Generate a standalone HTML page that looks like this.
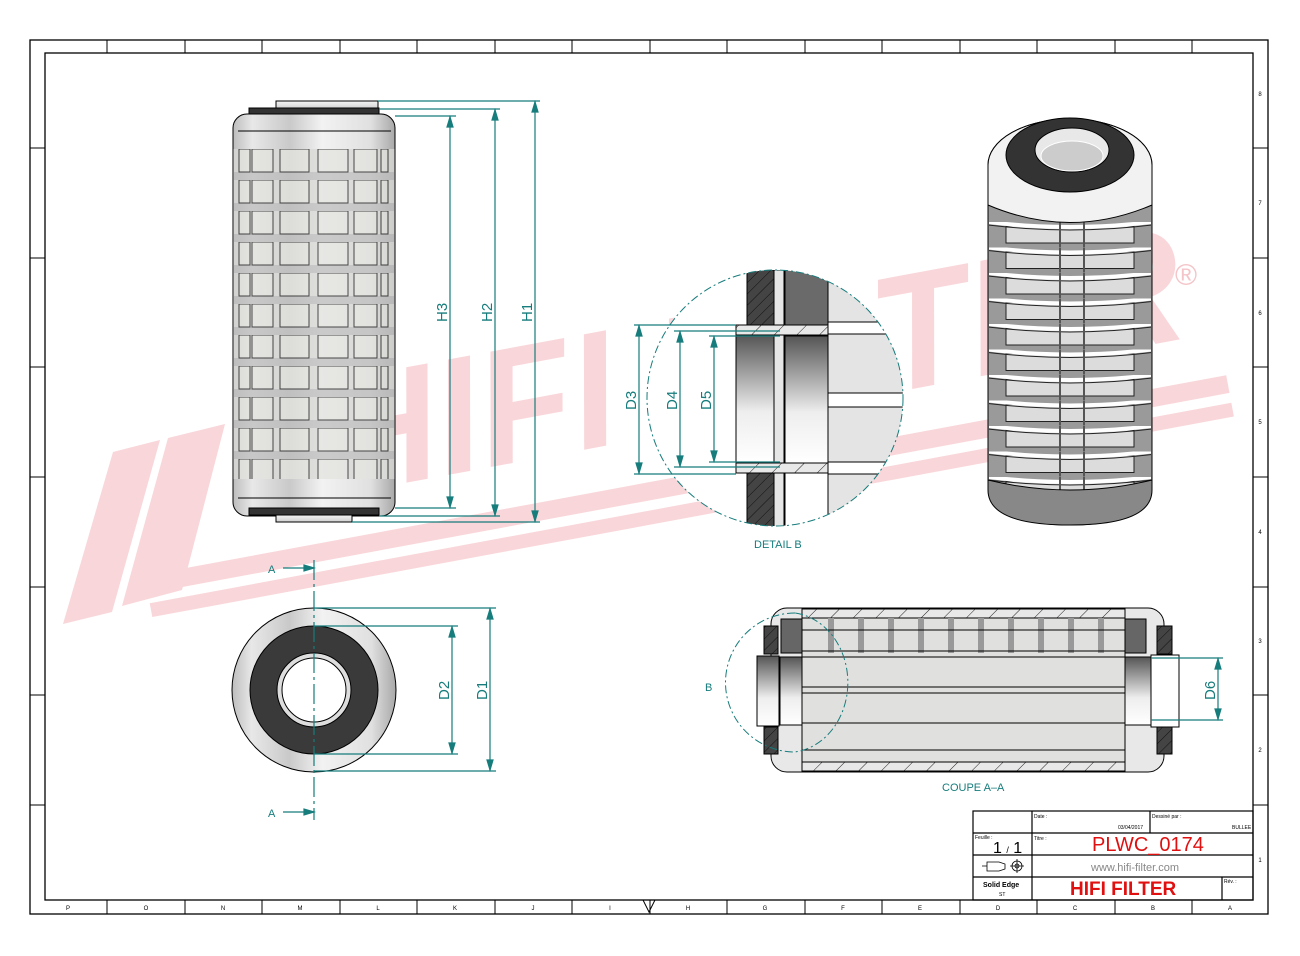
<!DOCTYPE html>
<html><head><meta charset="utf-8"><style>
html,body{margin:0;padding:0;background:#fff}
svg{display:block}
text{font-family:"Liberation Sans",sans-serif}
</style></head><body>
<svg width="1300" height="956" viewBox="0 0 1300 956" xmlns="http://www.w3.org/2000/svg">
<defs>
<linearGradient id="cyl" x1="0" x2="1" y1="0" y2="0">
<stop offset="0" stop-color="#bdbdbd"/><stop offset="0.12" stop-color="#e8e8e8"/><stop offset="0.35" stop-color="#c9c9c9"/><stop offset="0.55" stop-color="#f2f2f2"/><stop offset="0.85" stop-color="#e0e0e0"/><stop offset="1" stop-color="#a8a8a8"/>
</linearGradient>
<linearGradient id="capg" x1="0" x2="0" y1="0" y2="1">
<stop offset="0" stop-color="#f4f4f4"/><stop offset="1" stop-color="#cfcfcf"/>
</linearGradient>
<linearGradient id="vg" x1="0" x2="0" y1="0" y2="1">
<stop offset="0" stop-color="#555"/><stop offset="0.6" stop-color="#eee"/><stop offset="1" stop-color="#fff"/>
</linearGradient>
<pattern id="grid" patternUnits="userSpaceOnUse" x="233" y="149" width="162" height="31">
<rect width="162" height="31" fill="#d9d9d6"/>
<rect y="23" width="162" height="8" fill="#bdbdbd"/>
<g fill="#e3e3df" stroke="#111" stroke-width="1">
<rect x="6" y="0" width="11" height="23"/><rect x="19" y="0" width="21" height="23"/><rect x="47" y="0" width="29" height="23"/><rect x="85" y="0" width="30" height="23"/><rect x="121" y="0" width="23" height="23"/><rect x="148" y="0" width="7" height="23"/>
</g>
</pattern>
<pattern id="hatch" patternUnits="userSpaceOnUse" width="8" height="8" patternTransform="rotate(45)">
<rect width="8" height="8" fill="#444"/><line x1="0" y1="0" x2="0" y2="8" stroke="#111" stroke-width="1"/>
</pattern>
<pattern id="hatchL" patternUnits="userSpaceOnUse" width="16" height="16" patternTransform="rotate(45)">
<rect width="16" height="16" fill="#e8e8e8"/><line x1="0" y1="0" x2="0" y2="16" stroke="#222" stroke-width="1"/>
</pattern>
<pattern id="ribs" patternUnits="userSpaceOnUse" x="988" y="222" width="164" height="25.5">
<rect width="164" height="25.5" fill="#9a9a9a"/>
<rect x="18" y="4" width="128" height="17" fill="#dcdcdc" stroke="#222"/>
<path d="M0 0 Q82 10 164 0" stroke="#fff" stroke-width="4" fill="none"/>
<path d="M0 3 Q82 13 164 3" stroke="#222" stroke-width="1" fill="none"/>
<line x1="72" y1="0" x2="72" y2="25" stroke="#555" stroke-width="2"/><line x1="96" y1="0" x2="96" y2="25" stroke="#555" stroke-width="2"/>
</pattern>
<clipPath id="cB"><circle cx="775" cy="398" r="128"/></clipPath>
</defs>

<!-- watermark -->
<g fill="#f9d6d9">
<polygon points="63,624 113,452 160,440 112,612"/>
<polygon points="122,606 168,438 225,424 182,590"/>
<g transform="rotate(-10.5 200 600)">
<rect x="170" y="566" width="1080" height="18"/>
<rect x="150" y="594" width="1100" height="14"/>
</g>
<text transform="rotate(-10.5 340 495)" x="335" y="495" font-family="Liberation Serif,serif" font-weight="bold" font-style="italic" font-size="165" textLength="870" lengthAdjust="spacingAndGlyphs">HIFI FILTER</text>
<text x="1175" y="285" font-size="30" fill="#f4c4c8">®</text>
</g>

<!-- frame -->
<rect x="30" y="40" width="1238" height="874" fill="none" stroke="#000" stroke-width="1.3"/>
<rect x="45" y="53" width="1208" height="847" fill="none" stroke="#000" stroke-width="1.3"/>
<g stroke="#000" stroke-width="1">
<path d="M107 40v13M185 40v13M262 40v13M340 40v13M417 40v13M495 40v13M572 40v13M650 40v13M727 40v13M805 40v13M882 40v13M960 40v13M1037 40v13M1115 40v13M1192 40v13"/>
<path d="M107 900v14M185 900v14M262 900v14M340 900v14M417 900v14M495 900v14M572 900v14M650 900v14M727 900v14M805 900v14M882 900v14M960 900v14M1037 900v14M1115 900v14M1192 900v14"/>
<path d="M30 148h15M30 258h15M30 367h15M30 477h15M30 587h15M30 695h15M30 805h15"/>
<path d="M1253 148h15M1253 258h15M1253 367h15M1253 477h15M1253 587h15M1253 695h15M1253 805h15"/>
</g>
<g font-size="6" fill="#000" text-anchor="middle">
<text x="68" y="910">P</text><text x="146" y="910">O</text><text x="223" y="910">N</text><text x="300" y="910">M</text><text x="378" y="910">L</text><text x="455" y="910">K</text><text x="533" y="910">J</text><text x="610" y="910">I</text><text x="688" y="910">H</text><text x="765" y="910">G</text><text x="843" y="910">F</text><text x="920" y="910">E</text><text x="998" y="910">D</text><text x="1075" y="910">C</text><text x="1153" y="910">B</text><text x="1230" y="910">A</text>
<text x="1260" y="96">8</text><text x="1260" y="205">7</text><text x="1260" y="315">6</text><text x="1260" y="424">5</text><text x="1260" y="534">4</text><text x="1260" y="643">3</text><text x="1260" y="752">2</text><text x="1260" y="862">1</text>
</g>
<polygon points="643,900 655,900 649,912" fill="none" stroke="#000"/>

<!-- FRONT VIEW -->
<rect x="276" y="101" width="102" height="8" fill="url(#capg)" stroke="#000"/>
<rect x="249" y="108" width="130" height="7" fill="#333" stroke="#000"/>
<rect x="233" y="114" width="162" height="402" rx="14" fill="url(#cyl)" stroke="#000"/>
<rect x="234" y="149" width="160" height="330" fill="url(#grid)"/>
<rect x="233" y="149" width="162" height="330" fill="url(#cyl)" opacity="0.25"/>
<line x1="238" y1="131" x2="391" y2="131" stroke="#000"/>
<line x1="238" y1="498" x2="391" y2="498" stroke="#000"/>
<rect x="249" y="508" width="130" height="7" fill="#333" stroke="#000"/>
<rect x="276" y="515" width="76" height="7" fill="url(#capg)" stroke="#000"/>

<!-- H dims -->
<g stroke="#167c7c" stroke-width="1.2" fill="#167c7c">
<line x1="378" y1="101" x2="540" y2="101"/><line x1="379" y1="109" x2="500" y2="109"/><line x1="395" y1="116" x2="456" y2="116"/>
<line x1="352" y1="522" x2="540" y2="522"/><line x1="379" y1="516" x2="500" y2="516"/><line x1="395" y1="508" x2="456" y2="508"/>
<line x1="535" y1="101" x2="535" y2="522"/><line x1="495" y1="109" x2="495" y2="516"/><line x1="450" y1="116" x2="450" y2="508"/>
<polygon points="535,102 532,112 538,112"/><polygon points="535,521 532,511 538,511"/>
<polygon points="495,110 492,120 498,120"/><polygon points="495,515 492,505 498,505"/>
<polygon points="450,117 447,127 453,127"/><polygon points="450,507 447,497 453,497"/>
</g>
<g fill="#167c7c" font-size="15">
<text transform="translate(532 322) rotate(-90)">H1</text>
<text transform="translate(492 322) rotate(-90)">H2</text>
<text transform="translate(447 322) rotate(-90)">H3</text>
</g>

<!-- BOTTOM VIEW -->
<circle cx="314" cy="690" r="82" fill="url(#cyl)" stroke="#000"/>
<circle cx="314" cy="690" r="64" fill="#3a3a3a" stroke="#000"/>
<circle cx="314" cy="690" r="37" fill="#ddd" stroke="#000"/>
<circle cx="314" cy="690" r="32" fill="#fff" stroke="#000"/>
<g stroke="#167c7c" stroke-width="1.2" fill="#167c7c">
<line x1="314" y1="560" x2="314" y2="820" stroke-dasharray="20 4 3 4"/>
<line x1="283" y1="568" x2="314" y2="568"/><polygon points="314,568 304,565 304,571"/>
<line x1="283" y1="812" x2="314" y2="812"/><polygon points="314,812 304,809 304,815"/>
<line x1="314" y1="608" x2="496" y2="608"/><line x1="314" y1="771" x2="496" y2="771"/>
<line x1="314" y1="626" x2="458" y2="626"/><line x1="314" y1="754" x2="458" y2="754"/>
<line x1="490" y1="608" x2="490" y2="771"/><line x1="452" y1="626" x2="452" y2="754"/>
<polygon points="490,609 487,619 493,619"/><polygon points="490,770 487,760 493,760"/>
<polygon points="452,627 449,637 455,637"/><polygon points="452,753 449,743 455,743"/>
</g>
<g fill="#167c7c" font-size="15">
<text x="268" y="573" font-size="11">A</text><text x="268" y="817" font-size="11">A</text>
<text transform="translate(487 700) rotate(-90)">D1</text>
<text transform="translate(449 700) rotate(-90)">D2</text>
</g>

<!-- DETAIL B -->
<g clip-path="url(#cB)">
<rect x="640" y="260" width="300" height="280" fill="#fff"/>
<rect x="747" y="270" width="27" height="58" fill="url(#hatch)" stroke="#000"/>
<rect x="747" y="473" width="27" height="60" fill="url(#hatch)" stroke="#000"/>
<rect x="774" y="270" width="10" height="270" fill="#e6e6e6" stroke="#000"/>
<rect x="785" y="270" width="43" height="62" fill="#6a6a6a" stroke="#000"/>
<rect x="736" y="325" width="92" height="10" fill="url(#hatchL)" stroke="#000"/>
<rect x="736" y="463" width="92" height="10" fill="url(#hatchL)" stroke="#000"/>
<rect x="736" y="335" width="38" height="128" fill="url(#vg)" stroke="#000"/>
<rect x="785" y="336" width="43" height="127" fill="url(#vg)" stroke="#000"/>
<rect x="828" y="270" width="100" height="270" fill="#e4e4e4" stroke="#000"/>
<rect x="828" y="322" width="100" height="12" fill="#fff" stroke="#000"/>
<rect x="828" y="393" width="100" height="14" fill="#fff" stroke="#000"/>
<rect x="828" y="462" width="100" height="12" fill="#fff" stroke="#000"/>
<rect x="785" y="473" width="43" height="67" fill="#fff" stroke="#000"/>
</g>
<circle cx="775" cy="398" r="128" fill="none" stroke="#167c7c" stroke-width="1" stroke-dasharray="8 3 2 3"/>
<g stroke="#167c7c" stroke-width="1.2" fill="#167c7c">
<line x1="634" y1="325" x2="736" y2="325"/><line x1="634" y1="474" x2="736" y2="474"/>
<line x1="674" y1="331" x2="780" y2="331"/><line x1="674" y1="467" x2="780" y2="467"/>
<line x1="709" y1="336" x2="780" y2="336"/><line x1="709" y1="462" x2="780" y2="462"/>
<line x1="639" y1="325" x2="639" y2="474"/><line x1="680" y1="331" x2="680" y2="467"/><line x1="714" y1="336" x2="714" y2="462"/>
<polygon points="639,326 636,336 642,336"/><polygon points="639,473 636,463 642,463"/>
<polygon points="680,332 677,342 683,342"/><polygon points="680,466 677,456 683,456"/>
<polygon points="714,337 711,347 717,347"/><polygon points="714,461 711,451 717,451"/>
</g>
<g fill="#167c7c" font-size="15">
<text transform="translate(636 410) rotate(-90)">D3</text>
<text transform="translate(677 410) rotate(-90)">D4</text>
<text transform="translate(711 410) rotate(-90)">D5</text>
<text x="754" y="548" font-size="11">DETAIL B</text>
</g>

<!-- 3D VIEW -->
<path d="M988 165 A82 46 0 0 1 1152 165 L1152 480 Q1152 525 1070 525 Q988 525 988 480 Z" fill="#9a9a9a" stroke="#000"/>
<rect x="989" y="222" width="162" height="270" fill="url(#ribs)"/>
<path d="M988 480 Q1070 500 1152 480 L1152 490 Q1152 525 1070 525 Q988 525 988 490 Z" fill="#888" stroke="#000"/>
<path d="M988 165 A82 46 0 0 1 1152 165 L1152 205 Q1070 240 988 205 Z" fill="#f2f2f2" stroke="#000"/>
<ellipse cx="1070" cy="155" rx="64" ry="37" fill="#333" stroke="#000"/>
<ellipse cx="1072" cy="150" rx="37" ry="22" fill="#e8e8e8" stroke="#000"/>
<ellipse cx="1072" cy="156" rx="31" ry="15" fill="#ccc" stroke="#fff"/>

<!-- SECTION A-A -->
<rect x="771" y="608" width="393" height="164" rx="16" fill="#e8e8e8" stroke="#000"/>
<rect x="802" y="609" width="323" height="9" fill="url(#hatchL)" stroke="#000"/>
<rect x="802" y="762" width="323" height="9" fill="url(#hatchL)" stroke="#000"/>
<rect x="802" y="618" width="323" height="144" fill="#e0e0de" stroke="#000"/>
<g fill="#999">
<rect x="828" y="618" width="6" height="35"/><rect x="858" y="618" width="6" height="35"/><rect x="888" y="618" width="6" height="35"/><rect x="918" y="618" width="6" height="35"/><rect x="948" y="618" width="6" height="35"/><rect x="978" y="618" width="6" height="35"/><rect x="1008" y="618" width="6" height="35"/><rect x="1038" y="618" width="6" height="35"/><rect x="1068" y="618" width="6" height="35"/><rect x="1098" y="618" width="6" height="35"/>
</g>
<g fill="none" stroke="#000">
<line x1="802" y1="630" x2="1125" y2="630"/><line x1="802" y1="651" x2="1125" y2="651"/><line x1="802" y1="657" x2="1125" y2="657"/>
<line x1="802" y1="687" x2="1125" y2="687"/><line x1="802" y1="693" x2="1125" y2="693"/>
<line x1="802" y1="723" x2="1125" y2="723"/><line x1="802" y1="750" x2="1125" y2="750"/>
</g>
<rect x="781" y="619" width="21" height="34" fill="#666" stroke="#000"/>
<rect x="1125" y="619" width="21" height="34" fill="#666" stroke="#000"/>
<rect x="764" y="626" width="14" height="28" fill="url(#hatch)" stroke="#000"/>
<rect x="764" y="727" width="14" height="27" fill="url(#hatch)" stroke="#000"/>
<rect x="1157" y="626" width="15" height="28" fill="url(#hatch)" stroke="#000"/>
<rect x="1157" y="727" width="15" height="27" fill="url(#hatch)" stroke="#000"/>
<rect x="757" y="656" width="22" height="70" fill="url(#vg)" stroke="#000"/>
<rect x="780" y="657" width="22" height="68" fill="url(#vg)" stroke="#000"/>
<rect x="1125" y="657" width="26" height="68" fill="url(#vg)" stroke="#000"/>
<rect x="1151" y="655" width="28" height="72" fill="#fff" stroke="#000"/>
<g stroke="#167c7c" stroke-width="1.2" fill="#167c7c">
<path d="M795 613 A63 63 0 1 0 795 752 A60 70 0 0 0 795 613" fill="none" stroke-dasharray="8 3 2 3" stroke-width="1"/>
<line x1="1151" y1="658" x2="1223" y2="658"/><line x1="1151" y1="720" x2="1223" y2="720"/>
<line x1="1218" y1="658" x2="1218" y2="720"/>
<polygon points="1218,659 1215,669 1221,669"/><polygon points="1218,719 1215,709 1221,709"/>
</g>
<g fill="#167c7c">
<text transform="translate(1215 700) rotate(-90)" font-size="15">D6</text>
<text x="705" y="691" font-size="11">B</text>
<text x="942" y="791" font-size="11">COUPE A–A</text>
</g>

<!-- TITLE BLOCK -->
<g stroke="#000" stroke-width="1.2" fill="none">
<rect x="973" y="811" width="280" height="89"/>
<line x1="1032" y1="811" x2="1032" y2="900"/>
<line x1="1150" y1="811" x2="1150" y2="833"/>
<line x1="973" y1="833" x2="1253" y2="833"/>
<line x1="973" y1="855" x2="1253" y2="855"/>
<line x1="973" y1="877" x2="1253" y2="877"/>
<line x1="1222" y1="877" x2="1222" y2="900"/>
</g>
<g font-size="5" fill="#000">
<text x="1034" y="818">Date :</text><text x="1152" y="818">Dessiné par :</text>
<text x="1118" y="829">03/04/2017</text><text x="1232" y="829">BULLEE</text>
<text x="975" y="839">Feuille :</text><text x="1034" y="840">Titre :</text><text x="1224" y="883">Rév. :</text>
</g>
<text x="993" y="853" font-size="16" fill="#000">1 <tspan font-size="9">/</tspan> 1</text>
<text x="1092" y="851" font-size="20" fill="#e01010">PLWC_0174</text>
<text x="1091" y="871" font-size="11" fill="#888">www.hifi-filter.com</text>
<text x="1070" y="895" font-size="19" font-weight="bold" fill="#e01010">HIFI FILTER</text>
<text x="983" y="887" font-size="7" font-weight="bold" fill="#000">Solid Edge</text>
<text x="999" y="896" font-size="5" fill="#000">ST</text>
<g stroke="#000" fill="none" stroke-width="0.8">
<path d="M982 866h5M987 862h12l6 2v5l-6 2h-12z"/>
<circle cx="1017" cy="866" r="5"/><circle cx="1017" cy="866" r="2"/><path d="M1010 866h14M1017 859v14"/>
</g>
</svg>
</body></html>
